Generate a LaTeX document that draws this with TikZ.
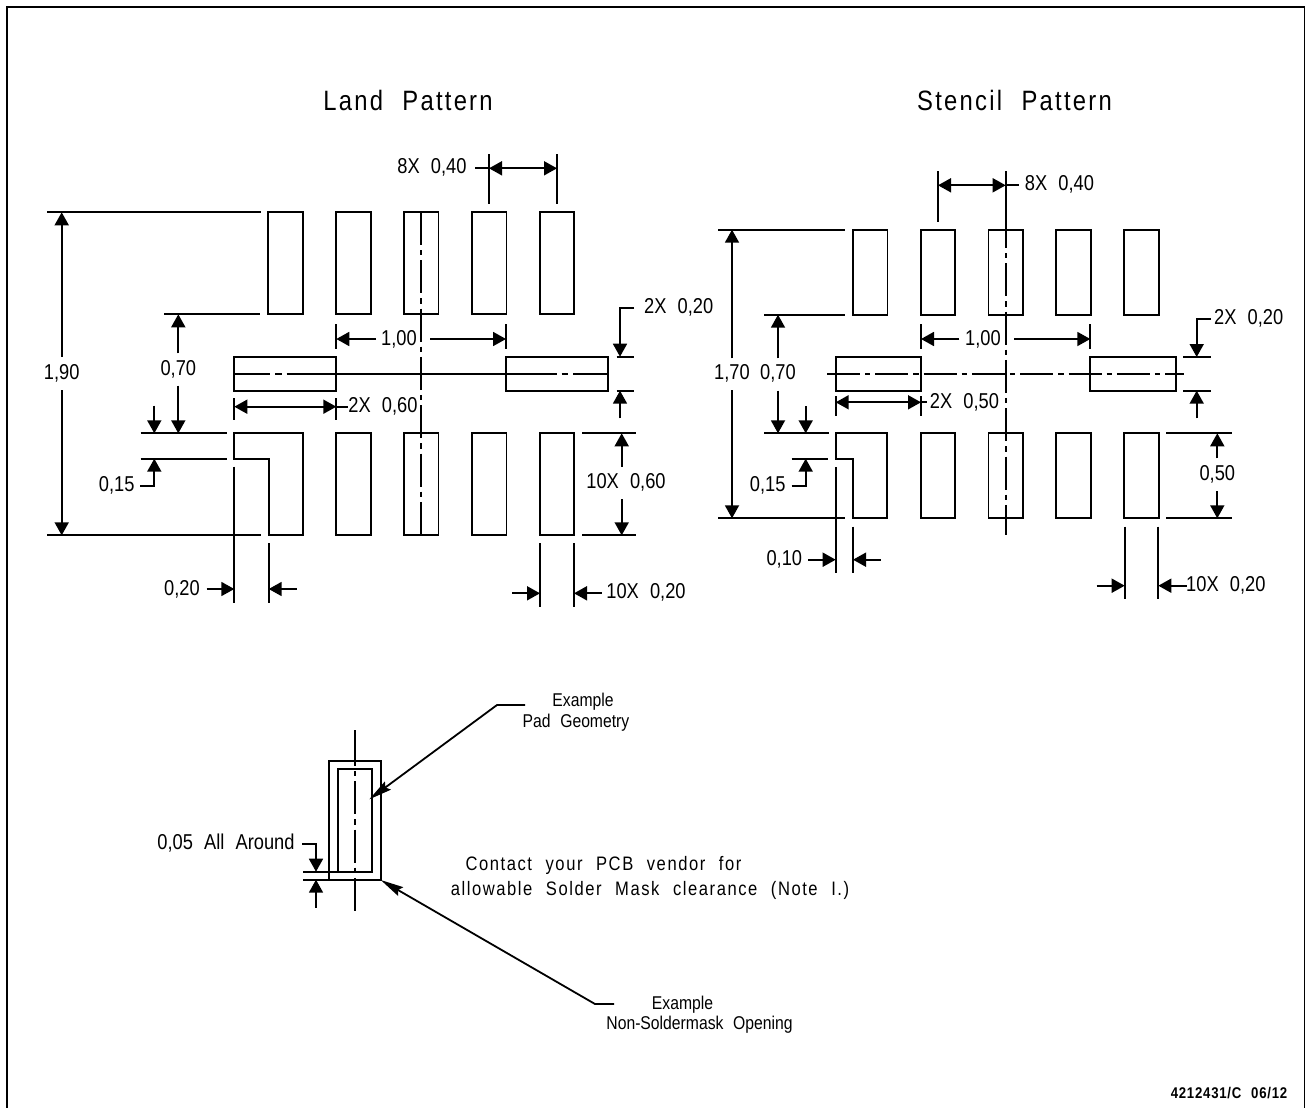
\documentclass[tikz,border=0pt]{standalone}
\usepackage{fontspec}
\setmainfont{Liberation Sans}[FakeStretch=0.85,WordSpace=2.2]
\usetikzlibrary{arrows.meta}
\begin{document}
\begin{tikzpicture}[x=1pt,y=-1pt,line width=1.8pt]
\tikzstyle{arrow} = [-{Triangle[length=13pt,width=14pt]}] % standard dimension arrow
\tikzstyle{both} = [{Triangle[length=13pt,width=14pt]}-{Triangle[length=13pt,width=14pt]}] % arrow between two extension lines
\tikzstyle{leader} = [-{Stealth[length=23pt,width=10pt,inset=3pt]}] % slim arrow of the notes
\tikzstyle{pad} = [draw, rectangle, inner sep = 0pt, outer sep = 0pt, minimum width = 34.4pt] % rectangular pad
\tikzstyle{label} = [inner sep = 0pt, font = \fontsize{21.5}{26}\selectfont] % dimension text
\tikzstyle{note} = [inner sep = 0pt, font = \fontsize{18.5}{22}\selectfont] % small note text
\tikzstyle{wide} = [inner sep = 0pt, font = \fontsize{19.5}{24}\selectfont\addfontfeature{LetterSpace=8}] % spaced out text
\tikzstyle{title} = [inner sep = 0pt, font = \fontsize{28}{34}\selectfont\addfontfeature{LetterSpace=8}] % pattern title
\tikzstyle{center} = [dash pattern = on 33pt off 5pt on 5.3pt off 5pt] % center line
\useasboundingbox (0,0) rectangle (1309,1108);
\draw (7,1108)--(7,7)--(1304.5,7)--(1304.5,1108); % frame open at the bottom
\node(landtitle)[title] at (408,100){Land Pattern};
\node(stentitle)[title] at (1014.5,100){Stencil Pattern};

% land pattern pads
\foreach \i/\x in {0/285.5,1/353.4,2/421.3,3/489.3,4/557}
  \node(landtop\i)[pad, minimum height = 102pt] at (\x,263.3){};
\foreach \i/\x in {1/353.4,2/421.3,3/489.3,4/557}
  \node(landbot\i)[pad, minimum height = 102pt] at (\x,484.3){};
\draw (234.3,458.7)--(234.3,433.3)--(302.7,433.3)--(302.7,535.3)--(268.7,535.3)--(268.7,458.7)--cycle; % notched pad
\node(landleft)[pad, minimum width = 102pt, minimum height = 34pt] at (285.3,373.7){};
\node(landright)[pad, minimum width = 102.3pt, minimum height = 34pt] at (557.1,373.7){};
% land pattern center lines
\draw (234.3,374)--(270,374) (275,374)--(281.7,374) (286.7,374)--(556.7,374) (561.7,374)--(568.3,374) (573,374)--(608.3,374);
\draw[center] (421.3,212)--(421.3,535.3);
% land pattern extension lines
\draw (47.3,212.3)--(260.7,212.3) (47.3,535.3)--(260.7,535.3);
\draw (164.3,314.3)--(260.3,314.3) (140.7,433.3)--(226.7,433.3) (140.7,458.7)--(226.7,458.7);
\draw (234.3,466.7)--(234.3,602.7) (268.7,543.3)--(268.7,602.7);
\draw (234.3,398)--(234.3,420) (336.3,398)--(336.3,420);
\draw (336.3,324.3)--(336.3,349) (506,324.3)--(506,349);
\draw (489,154.3)--(489,204.3) (557,154.3)--(557,204.3);
\draw (616.7,356.7)--(634,356.7) (616.7,390.7)--(634,390.7);
\draw (582.3,433.3)--(635.7,433.3) (582.3,535.3)--(635.7,535.3);
\draw (540,543.3)--(540,607.3) (574,543.3)--(574,607.3);
% land pattern dimensions
\node(land190)[label] at (61.7,373){1,90};
\draw[arrow](61.7,356.7)--(61.7,212.3);
\draw[arrow](61.7,390)--(61.7,535.3);
\node(land070)[label] at (178.3,369){0,70};
\draw[arrow](178.3,353.3)--(178.3,314.3);
\draw[arrow](178.3,385.7)--(178.3,433.3);
\node(land015)[label] at (116.7,485){0,15};
\draw[arrow](154.3,405.7)--(154.3,433.3);
\draw[arrow](140,486)--(154.3,486)--(154.3,458.7);
\node(land020)[label] at (182,589){0,20};
\draw[arrow](206.7,589)--(234.3,589);
\draw[arrow](296.7,589)--(268.7,589);
\node(land060)[label] at (383,406){2X 0,60};
\draw[both](234.3,406.7)--(336.3,406.7);
\draw (336.3,406.7)--(348,406.7);
\node(land100)[label] at (399,339){1,00};
\draw[arrow](376,339)--(336.3,339);
\draw[arrow](430,339)--(506,339);
\node(land040)[label] at (432,167){8X 0,40};
\draw[both](489,168.3)--(557,168.3);
\draw (475,168.3)--(489,168.3);
\node(landgap)[label] at (678.7,307){2X 0,20};
\draw[arrow](634,307.7)--(620,307.7)--(620,356.7);
\draw[arrow](620,418.3)--(620,390.7);
\node(landlen)[label] at (626,482){10X 0,60};
\draw[arrow](621.7,466.7)--(621.7,433.3);
\draw[arrow](621.7,499.3)--(621.7,535.3);
\node(landwid)[label] at (646,592){10X 0,20};
\draw[arrow](512.3,593.3)--(540,593.3);
\draw[arrow](601.7,593.3)--(574,593.3);

% stencil pattern pads
\foreach \i/\x in {0/870.2,1/937.9,2/1005.7,3/1073.5,4/1141.5}
  \node(stentop\i)[pad, minimum height = 85pt] at (\x,272.2){};
\foreach \i/\x in {1/937.9,2/1005.7,3/1073.5,4/1141.5}
  \node(stenbot\i)[pad, minimum height = 85pt] at (\x,475.8){};
\draw (835.7,458.7)--(835.7,433.3)--(887.3,433.3)--(887.3,518.3)--(853,518.3)--(853,458.7)--cycle; % notched pad
\node(stenleft)[pad, minimum width = 85.3pt, minimum height = 33.7pt] at (878.35,373.85){};
\node(stenright)[pad, minimum width = 85.4pt, minimum height = 33.7pt] at (1133,373.85){};
% stencil pattern center lines
\draw[center] (827,373.7)--(1184.3,373.7);
\draw (1005.7,171)--(1005.7,215);
\draw[center] (1005.7,215)--(1005.7,535);
% stencil pattern extension lines
\draw (718.3,229.7)--(845.3,229.7) (718.3,518.3)--(845.3,518.3);
\draw (764,314.7)--(845,314.7) (764,433.3)--(829,433.3) (791.7,458.7)--(828,458.7);
\draw (835.7,467.3)--(835.7,573.3) (853,526.7)--(853,573.3);
\draw (835.7,396)--(835.7,416) (921,396)--(921,416);
\draw (921,324.3)--(921,349) (1090.3,324.3)--(1090.3,349);
\draw (938,171)--(938,221.7);
\draw (1183.3,357)--(1210.7,357) (1183.3,390.7)--(1210.7,390.7);
\draw (1166,433.3)--(1231.7,433.3) (1166,518.3)--(1231.7,518.3);
\draw (1124.7,526.7)--(1124.7,599.3) (1158.3,526.7)--(1158.3,599.3);
% stencil pattern dimensions
\node(sten170)[label] at (732,373){1,70};
\draw[arrow](732,358.3)--(732,229.7);
\draw[arrow](732,390)--(732,518.3);
\node(sten070)[label] at (778,373){0,70};
\draw[arrow](778,358.3)--(778,314.7);
\draw[arrow](778,390.7)--(778,433.3);
\node(sten015)[label] at (767.7,485){0,15};
\draw[arrow](805.7,406)--(805.7,433.3);
\draw[arrow](791.7,485.7)--(805.7,485.7)--(805.7,458.7);
\node(sten010)[label] at (784.3,559){0,10};
\draw[arrow](808.3,559.7)--(835.7,559.7);
\draw[arrow](880.7,559.7)--(853,559.7);
\node(sten050)[label] at (964.5,402){2X 0,50};
\draw[both](835.7,402.3)--(921,402.3);
\draw (921,402.3)--(927.3,402.3);
\node(sten100)[label] at (983,339){1,00};
\draw[arrow](959.3,339)--(921,339);
\draw[arrow](1014.3,339)--(1090.3,339);
\node(sten040)[label] at (1059.5,184){8X 0,40};
\draw[both](938,185.3)--(1005.7,185.3);
\draw (1005.7,185.3)--(1019.3,185.3);
\node(stengap)[label] at (1248.7,318){2X 0,20};
\draw[arrow](1211,319)--(1196.7,319)--(1196.7,357);
\draw[arrow](1196.7,418.3)--(1196.7,390.7);
\node(stenlen)[label] at (1217.3,474){0,50};
\draw[arrow](1217.3,458.3)--(1217.3,433.3);
\draw[arrow](1217.3,491)--(1217.3,518.3);
\node(stenwid)[label] at (1225.8,585){10X 0,20};
\draw[arrow](1096.7,585.7)--(1124.7,585.7);
\draw[arrow](1186.7,585.7)--(1158.3,585.7);

% example pad
\node(maskopen)[pad, minimum width = 51.4pt, minimum height = 119pt] at (355,820.2){};
\node(padgeom)[pad, minimum width = 34.6pt, minimum height = 102.4pt] at (355,820.5){};
\draw (355,730)--(355,740);
\draw[center] (355,733)--(355,910.7);
\draw (303.3,871.7)--(337.7,871.7) (303.3,879.7)--(329.3,879.7);
\node(aroundtext)[label] at (226,843){0,05 All Around};
\draw[arrow](302.3,844)--(316,844)--(316,871.7);
\draw[arrow](316,907.7)--(316,879.7);
% notes
\node(padnote)[note] at (583,702){Example};
\node(padnote2)[note] at (576,723){Pad Geometry};
\draw[leader](525,705)--(497,705)--(369.3,799.3);
\node(masknote)[note] at (682.5,1005){Example};
\node(masknote2)[note] at (699.5,1025){Non-Soldermask Opening};
\draw[leader](614,1004)--(595,1004)--(380.7,880);
\node(contact)[wide] at (603.5,865){Contact your PCB vendor for};
\node(contact2)[wide] at (650,890){allowable Solder Mask clearance (Note I.)};
\node(drawno)[inner sep = 0pt, font = \fontsize{15.5}{18}\selectfont\bfseries\addfontfeature{LetterSpace=5}] at (1229,1093){4212431/C 06/12};
\end{tikzpicture}
\end{document}
